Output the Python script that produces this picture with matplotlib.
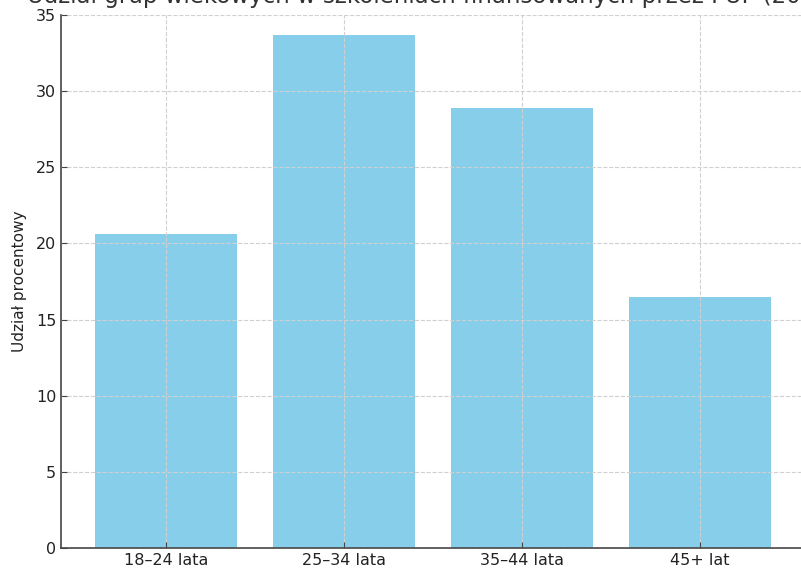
import matplotlib
matplotlib.use("Agg")
import matplotlib.pyplot as plt

categories = ["18–24 lata", "25–34 lata", "35–44 lata", "45+ lat"]
values = [20.6, 33.7, 28.9, 16.5]
yticks = [0, 5, 10, 15, 20, 25, 30, 35]
title = "Udział grup wiekowych w szkoleniach finansowanych przez PUP (2023)"
ylabel = "Udział procentowy"

fig = plt.figure(figsize=(8.01, 5.71), dpi=100)
ax = fig.add_axes([61/801, 23/571, 744/801, 533/571])

x = list(range(len(categories)))
ax.bar(x, values, width=0.8, color="skyblue", zorder=2)
ax.set_xticks(x)
ax.set_xticklabels(categories, fontsize=11.5, color="#222222")
ax.set_yticks(yticks)
ax.tick_params(axis="y", labelsize=11.5, labelcolor="#222222")
ax.tick_params(direction="in", length=4, color="#444444")
ax.set_xlim(-0.59, 3.59)
ax.set_ylim(0, 35)
ax.set_ylabel(ylabel, fontsize=11, color="#222222", labelpad=6)
ax.set_title(title, fontsize=16.5, color="#333333", pad=9)
ax.grid(True, linestyle="--", color="#d0d0d0", linewidth=0.8, zorder=3)
ax.set_axisbelow(False)
for s in ["top", "right"]:
    ax.spines[s].set_visible(False)
for s in ["left", "bottom"]:
    ax.spines[s].set_color("#444444")
    ax.spines[s].set_linewidth(1.2)

fig.savefig("out.png", dpi=100)
